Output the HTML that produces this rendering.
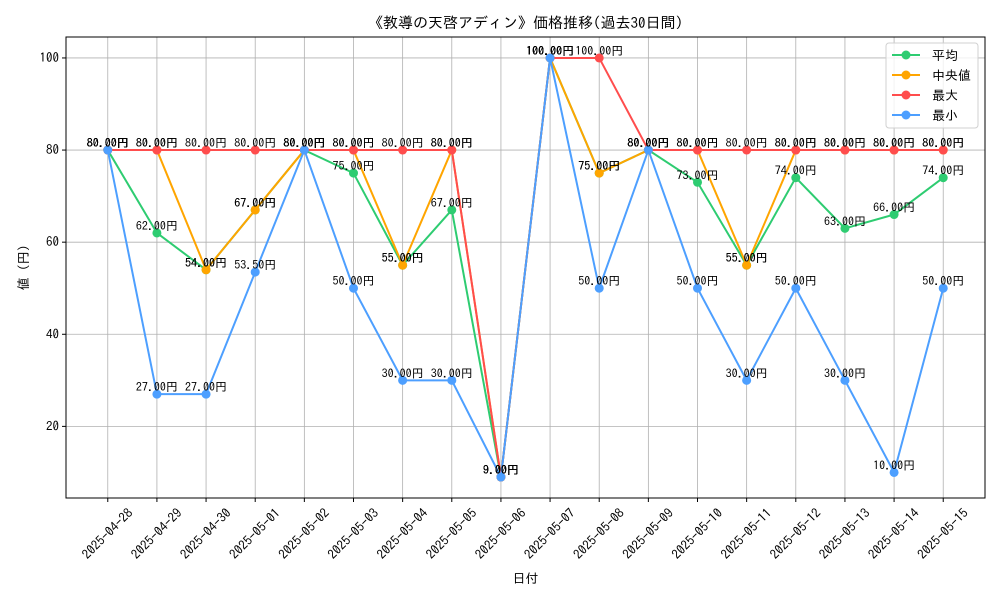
<!DOCTYPE html>
<html><head><meta charset="utf-8"><style>
body{margin:0;background:#fff;}
svg{font-family:"IPAGothic","Noto Sans CJK JP",sans-serif;}
</style></head><body>
<svg id="chart" width="1000" height="600" xmlns="http://www.w3.org/2000/svg"></svg>
<script>
const categories=["2025-04-28","2025-04-29","2025-04-30","2025-05-01","2025-05-02","2025-05-03","2025-05-04","2025-05-05","2025-05-06","2025-05-07","2025-05-08","2025-05-09","2025-05-10","2025-05-11","2025-05-12","2025-05-13","2025-05-14","2025-05-15"];
const avgValues=[80,62,54,67,80,75,55,67,9,100,75,80,73,55,74,63,66,74];
const medianValues=[80,80,54,67,80,80,55,80,9,100,75,80,80,55,80,80,80,80];
const maxValues=[80,80,80,80,80,80,80,80,9,100,100,80,80,80,80,80,80,80];
const minValues=[80,27,27,53.5,80,50,30,30,9,100,50,80,50,30,50,30,10,50];
const yTicks=[20,40,60,80,100];
const seriesNames=["平均","中央値","最大","最小"];
const seriesColors=["#2ecc71","#ffa500","#ff4d4d","#4d9fff"];
const seriesKeys=["avg","median","max","min"];

const svg=document.getElementById('chart');
const NS="http://www.w3.org/2000/svg";
const L=66,R=985,T=37,B=498;
const all=avgValues.concat(medianValues,maxValues,minValues);
const dmin=Math.min(...all),dmax=Math.max(...all),pad=(dmax-dmin)*0.05;
const y0=dmin-pad,y1=dmax+pad;
function xS(i){const n=categories.length;const xl=-0.85,xr=n-1+0.85;return L+(i-xl)/(xr-xl)*(R-L);}
function yS(v){return B-(v-y0)/(y1-y0)*(B-T);}
function mk(tag,attrs,parent){const e=document.createElementNS(NS,tag);for(const k in attrs)e.setAttribute(k,attrs[k]);(parent||svg).appendChild(e);return e;}

categories.forEach((c,i)=>{const g=mk('line',{x1:xS(i),x2:xS(i),y1:T,y2:B,stroke:'#b0b0b0','stroke-width':0.8});

});
yTicks.forEach(v=>{const g=mk('line',{x1:L,x2:R,y1:yS(v),y2:yS(v),stroke:'#b0b0b0','stroke-width':0.8});

});

const data=[avgValues,medianValues,maxValues,minValues];
data.forEach((vals,s)=>{
  const pts=vals.map((v,i)=>xS(i)+','+yS(v)).join(' ');
  const pl=mk('polyline',{points:pts,fill:'none',stroke:seriesColors[s],'stroke-width':2});
  
  
  vals.forEach((v,i)=>{
    const c=mk('circle',{cx:xS(i),cy:yS(v),r:4.5,fill:seriesColors[s]});
    
    
  });
});
data.forEach((vals,s)=>{
  vals.forEach((v,i)=>{
    const t=mk('text',{x:xS(i),y:yS(v)-3,'text-anchor':'middle','font-size':12,fill:'#000'});
    t.textContent=v.toFixed(2)+'円';
    
    
  });
});

const fr=mk('rect',{x:L,y:T,width:R-L,height:B-T,fill:'none',stroke:'#000','stroke-width':1});



categories.forEach((c,i)=>{
  const x=xS(i);
  const tk=mk('line',{x1:x,x2:x,y1:B,y2:B+4,stroke:'#000'});
  
  
  const cy=534;
  const t=mk('text',{x:x,y:cy+4,'text-anchor':'middle','font-size':13,transform:'rotate(-45 '+x+' '+cy+')'});
  t.textContent=c;
  
  
});
yTicks.forEach(v=>{
  const y=yS(v);
  const tk=mk('line',{x1:L-4,x2:L,y1:y,y2:y,stroke:'#000'});
  
  
  const t=mk('text',{x:L-7,y:y+4,'text-anchor':'end','font-size':13});
  t.textContent=v;
  
  
});

let t=mk('text',{x:(L+R)/2,y:28,'text-anchor':'middle','font-size':15});
t.textContent='《教導の天啓アディン》価格推移(過去30日間)';


t=mk('text',{x:(L+R)/2,y:583,'text-anchor':'middle','font-size':13});
t.textContent='日付';


t=mk('text',{x:28,y:(T+B)/2,'text-anchor':'middle','font-size':13,transform:'rotate(-90 28 '+((T+B)/2)+')'});
t.textContent='値 (円)';



const lg=mk('g',{});


const lb=mk('rect',{x:886,y:43,width:92,height:85,rx:3,fill:'#fff','fill-opacity':0.8,stroke:'#d0d0d0'},lg);


seriesNames.forEach((n,s)=>{
  const y=55+s*20;
  const e=mk('g',{},lg);
  
  
  mk('line',{x1:892,x2:920,y1:y,y2:y,stroke:seriesColors[s],'stroke-width':2},e);
  mk('circle',{cx:906,cy:y,r:4.5,fill:seriesColors[s]},e);
  const tx=mk('text',{x:932,y:y+5,'font-size':13},e);
  tx.textContent=(s==1?' ':'')+n;
});
</script>
</body></html>
